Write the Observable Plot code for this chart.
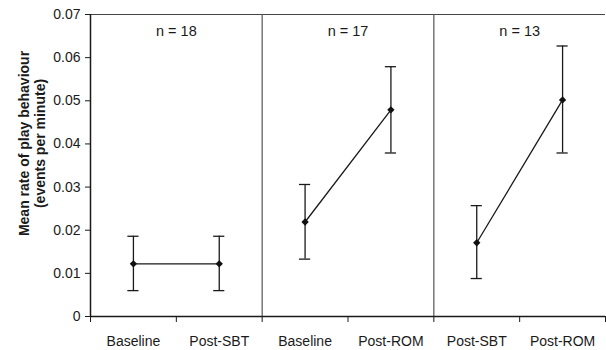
<!DOCTYPE html>
<html><head><meta charset="utf-8">
<script src="https://cdn.jsdelivr.net/npm/d3@7"></script>
<script src="https://cdn.jsdelivr.net/npm/@observablehq/plot@0.6"></script>
<style>body{margin:0;background:#fff;}</style>
</head><body><div id="chart"></div>
<script>
const categories = ["Baseline", "Post-SBT", "Baseline", "Post-ROM", "Post-SBT", "Post-ROM"];
const groupLabels = ["n = 18", "n = 17", "n = 13"];
const groupOf = [0, 0, 1, 1, 2, 2];
const means = [0.0122, 0.0122, 0.0219, 0.0479, 0.0171, 0.0502];
const upper = [0.0186, 0.0186, 0.0306, 0.0579, 0.0257, 0.0627];
const lower = [0.0060, 0.0060, 0.0133, 0.0379, 0.0088, 0.0379];
const yTicks = [0, 0.01, 0.02, 0.03, 0.04, 0.05, 0.06, 0.07];
const yTitleLines = ["Mean rate of play behaviour", "(events per minute)"];

const data = categories.map((c, i) => ({pos: i + 0.5, cat: c, group: groupOf[i], mean: means[i], hi: upper[i], lo: lower[i]}));
const boundaries = d3.range(categories.length + 1);
const dividers = boundaries.filter(b => b > 0 && b < categories.length && b % 2 === 0);
const groups = groupLabels.map((t, g) => ({label: t, pos: 2 * g + 1}));
const cap = 0.065;
const ink = "#1a1a1a";
const titleStyle = {frameAnchor: "left", textAnchor: "middle", lineAnchor: "middle", rotate: -90, dy: -22, fontWeight: "bold", fontSize: 14, fill: ink};

const chart = Plot.plot({
  width: 606,
  height: 350,
  marginLeft: 90,
  marginRight: 1,
  marginTop: 14,
  marginBottom: 34,
  style: {fontFamily: "Arial, 'Liberation Sans', sans-serif", fontSize: "14px", color: ink, background: "#fff"},
  x: {domain: [0, categories.length], axis: null},
  y: {domain: [0, 0.07], axis: null},
  marks: [
    Plot.ruleY([0.07], {stroke: "#444", strokeWidth: 1.2}),
    Plot.ruleX(dividers, {stroke: "#555", strokeWidth: 1.2}),
    Plot.axisY({ticks: yTicks, tickSize: 5, tickPadding: 5, tickFormat: d => d === 0 ? "0" : d.toFixed(2), fontSize: 14, label: null, stroke: ink}),
    Plot.axisX({ticks: boundaries, tickSize: 6, tickFormat: () => "", label: null, stroke: ink}),
    Plot.ruleX([0], {stroke: ink, strokeWidth: 1.5}),
    Plot.ruleY([0], {stroke: ink, strokeWidth: 1.5}),
    Plot.text(data, {x: "pos", text: "cat", frameAnchor: "bottom", dy: 25, lineAnchor: "middle", fontSize: 14, fill: ink}),
    Plot.line(data, {x: "pos", y: "mean", z: "group", stroke: ink, strokeWidth: 1.3}),
    Plot.ruleX(data, {x: "pos", y1: "lo", y2: "hi", stroke: ink, strokeWidth: 1.3}),
    Plot.ruleY(data, {y: "hi", x1: d => d.pos - cap, x2: d => d.pos + cap, stroke: ink, strokeWidth: 1.3}),
    Plot.ruleY(data, {y: "lo", x1: d => d.pos - cap, x2: d => d.pos + cap, stroke: ink, strokeWidth: 1.3}),
    Plot.dot(data, {x: "pos", y: "mean", symbol: "diamond2", r: 3.3, fill: "#111", stroke: "none"}),
    Plot.text(groups, {x: "pos", text: "label", frameAnchor: "top", dy: 17, lineAnchor: "middle", fontSize: 14.5, fill: ink}),
    Plot.text([yTitleLines[0]], {...titleStyle, text: d => d, dx: -66}),
    Plot.text([yTitleLines[1]], {...titleStyle, text: d => d, dx: -50})
  ]
});
document.getElementById("chart").appendChild(chart);
</script>
</body></html>
